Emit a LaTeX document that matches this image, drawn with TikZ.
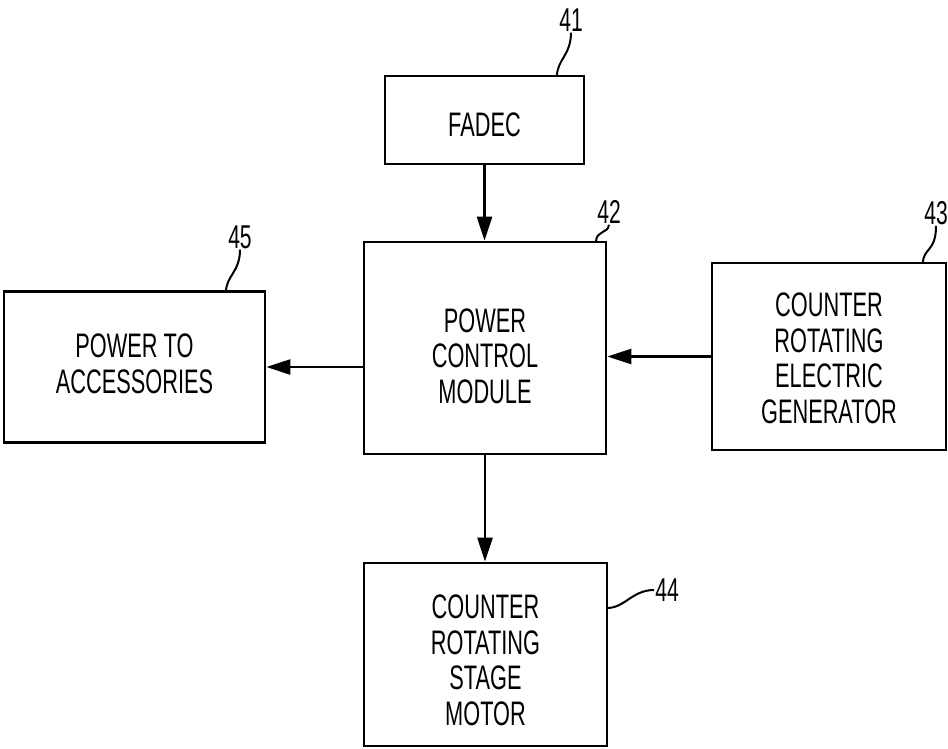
\documentclass[tikz,border=0pt]{standalone}
\usepackage{fontspec}
\setmainfont{Liberation Sans}[FakeStretch=0.64]
\usetikzlibrary{arrows.meta}
\tikzset{
  blk/.style={draw, line width=2.8pt, inner sep=0pt},
  blktext/.style={align=center, inner sep=0pt, font=\fontsize{34}{35.5}\selectfont},
  arr/.style={line width=2.6pt, -{Triangle[length=24pt,width=15pt]}},
  lead/.style={line width=2pt},
  num/.style={font=\fontsize{33}{34}\selectfont, inner sep=1pt}
}
\begin{document}
\begin{tikzpicture}[x=1pt,y=-1pt]
\useasboundingbox (0,0) rectangle (948,749);
\node[blk, minimum width=199pt, minimum height=88pt,
  label={[blktext, yshift=-5pt]center:FADEC}] (fadec) at (484.5,120) {};
\node[blk, minimum width=242pt, minimum height=212pt,
  label={[blktext, yshift=-8pt]center:POWER\\CONTROL\\MODULE}] (pcm) at (485,348) {};
\node[blk, minimum width=261pt, minimum height=151pt,
  label={[blktext, yshift=3pt]center:POWER TO\\ACCESSORIES}] (pta) at (134.5,367) {};
\node[blk, minimum width=234pt, minimum height=187pt,
  label={[blktext, yshift=-2pt]center:COUNTER\\ROTATING\\ELECTRIC\\GENERATOR}] (gen) at (829,356.5) {};
\node[blk, minimum width=243pt, minimum height=183pt,
  label={[blktext, yshift=-6pt]center:COUNTER\\ROTATING\\STAGE\\MOTOR}] (mot) at (485.5,654.5) {};

\draw[arr] (fadec.south) -- (fadec.south |- pcm.north);
\draw[arr] (pcm.south) -- (pcm.south |- mot.north);
\draw[arr] (pcm.west |- pta.east) -- (pta.east);
\draw[arr] (gen.west) -- (gen.west -| pcm.east);

% reference numerals
\node[num] (n41) at (571,20) {41};
\node[num] (n42) at (609,212) {42};
\node[num] (n43) at (936,213) {43};
\node[num] (n44) at (667,590) {44};
\node[num] (n45) at (240,237) {45};
\coordinate (l41) at (557,76);
\coordinate (l42) at (596,242);
\coordinate (l43) at (923,263);
\coordinate (l44) at (607,608);
\coordinate (l45) at (226,292);
\draw[lead] (l41) .. controls (557,60) and (571,55) .. (n41.south);
\draw[lead] (l42) .. controls (596,230) and (608,234) .. (n42.south);
\draw[lead] (l43) .. controls (923,248) and (936,252) .. (n43.south);
\draw[lead] (l44) .. controls (625,608) and (632,590) .. (n44.west);
\draw[lead] (l45) .. controls (226,276) and (240,272) .. (n45.south);
\end{tikzpicture}
\end{document}
